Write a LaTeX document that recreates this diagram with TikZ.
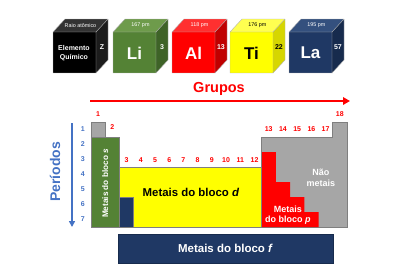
\documentclass[tikz,border=0pt]{standalone}
\usepackage{fontspec}
\setmainfont{Liberation Sans}
\usetikzlibrary{arrows.meta}
\definecolor{cgreen}{HTML}{548235}
\definecolor{cgreenT}{HTML}{6E9B4B}
\definecolor{cgreenS}{HTML}{3E6327}
\definecolor{cred}{HTML}{FF0000}
\definecolor{credT}{HTML}{FF3030}
\definecolor{credS}{HTML}{C00000}
\definecolor{cyel}{HTML}{FFFF00}
\definecolor{cyelT}{HTML}{FFFF50}
\definecolor{cyelS}{HTML}{D6D600}
\definecolor{cnavy}{HTML}{1F3864}
\definecolor{cnavyT}{HTML}{34507E}
\definecolor{cnavyS}{HTML}{172B4D}
\definecolor{cblk}{HTML}{000000}
\definecolor{cblkT}{HTML}{333333}
\definecolor{cblkS}{HTML}{1C1C1C}
\definecolor{cgray}{HTML}{A6A6A6}
\definecolor{cgrayL}{HTML}{7F7F7F}
\definecolor{cblue}{HTML}{4472C4}
\newcommand\elemcube[9]{%
  \fill[#4] (#1,32) -- (#1+12,19) -- (#1+55,19) -- (#1+43,32) -- cycle;
  \fill[#5] (#1+43,32) -- (#1+55,19) -- (#1+55,60) -- (#1+43,73) -- cycle;
  \fill[#3] (#1,32) rectangle (#1+43,73);
  \draw[cubeline] (#1,32) -- (#1+12,19) -- (#1+55,19) -- (#1+55,60) -- (#1+43,73) -- (#1,73) -- cycle
    (#1,32) -- (#1+43,32) -- (#1+55,19) (#1+43,32) -- (#1+43,73);
  \node[tiny, text=#6] (#2top) at (#1+27.5,25.5) {#7};
  \node[symb, text=#6] (#2sym) at (#1+21.5,53) {#8};
  \node[numb, text=#6] (#2num) at (#1+49,47) {#9};
}
\tikzset{
  cubeline/.style={draw=cgrayL!60, line width=0.4pt},
  tiny/.style={font=\fontsize{5.4}{6}\selectfont, inner sep=0pt},
  symb/.style={font=\fontsize{17}{20}\selectfont\bfseries, inner sep=0pt},
  numb/.style={font=\fontsize{7}{8}\selectfont\bfseries, inner sep=0pt},
  grp/.style={font=\fontsize{7}{8}\selectfont\bfseries, text=cred, inner sep=0pt},
  per/.style={font=\fontsize{7}{8}\selectfont\bfseries, text=cblue, inner sep=0pt},
  blk/.style={font=\fontsize{9}{10.5}\selectfont\bfseries, inner sep=0pt, align=center},
  cellline/.style={draw=cgrayL, line width=0.6pt},
}
\begin{document}
\begin{tikzpicture}[x=1pt,y=-1pt]
\useasboundingbox (0,0) rectangle (400,277);
% cubes
\elemcube{53}{c0}{cblk}{cblkT}{cblkS}{white}{Raio atômico}{}{Z}
\node[font=\fontsize{7}{8.5}\selectfont\bfseries, text=white, align=center, inner sep=0pt] (elq) at (74,53) {Elemento\\Químico};
\elemcube{113}{li}{cgreen}{cgreenT}{cgreenS}{white}{167 pm}{Li}{3}
\elemcube{172}{al}{cred}{credT}{credS}{white}{118 pm}{Al}{13}
\elemcube{230}{ti}{cyel}{cyelT}{cyelS}{black}{176 pm}{Ti}{22}
\elemcube{289}{la}{cnavy}{cnavyT}{cnavyS}{white}{195 pm}{La}{57}
% grupos
\coordinate (ga) at (90,101);
\coordinate (gb) at (350,101);
\draw[cred, line width=2.4pt, -{Triangle[length=7pt,width=7.5pt]}] (ga) -- (gb);
\node[font=\fontsize{14.5}{16}\selectfont\bfseries, text=cred, inner sep=0pt] (grupos) at (219,89) {Grupos};
% periodos
\coordinate (pa) at (72,123);
\coordinate (pb) at (72,227);
\draw[cblue, line width=1.6pt, -{Triangle[length=6pt,width=6pt]}] (pa) -- (pb);
\node[font=\fontsize{14}{16}\selectfont\bfseries, text=cblue, rotate=90, inner sep=0pt] (periodos) at (55,172) {Períodos};
% table
\begin{scope}[xshift=91pt, yshift=-122pt, x=14.22pt, y=-15pt]
  \filldraw[fill=cgray, cellline] (0,0) rectangle (1,1);
  \filldraw[fill=cgray, cellline] (12,1) -- (17,1) -- (17,0) -- (18,0) -- (18,7) -- (12,7) -- cycle;
  \fill[cred] (12,2) -- (13,2) -- (13,4) -- (14,4) -- (14,5) -- (15,5) -- (15,6) -- (16,6) -- (16,7) -- (12,7) -- cycle;
  \filldraw[fill=cgreen, cellline] (0,1) rectangle (2,7);
  \filldraw[fill=cyel, cellline] (2,3) rectangle (12,7);
  \filldraw[fill=cnavy, cellline] (2,5) rectangle (3,7);
  \draw[cellline] (12,1) -- (12,7);
  % group numbers
  \node[grp] (g1) at (0.5,-0.55) {1};
  \node[grp] (g2) at (1.5,0.35) {2};
  \foreach \g in {3,...,12} { \node[grp] (g\g) at (\g-0.5,2.55) {\g}; }
  \foreach \g in {13,...,17} { \node[grp] (g\g) at (\g-0.5,0.5) {\g}; }
  \node[grp] (g18) at (17.5,-0.55) {18};
  % period numbers
  \foreach \p in {1,...,7} { \node[per] (p\p) at (-0.57,\p-0.5) {\p}; }
  % block labels
  \node[font=\fontsize{8.2}{9.5}\selectfont\bfseries, inner sep=0pt, text=white, rotate=90] (bs) at (1.0,4.1) {Metais do bloco \textit{s}};
  \node[font=\fontsize{11.4}{13}\selectfont\bfseries, inner sep=0pt] (bd) at (7.03,4.67) {Metais do bloco \textit{d}};
  \node[blk, text=white] (nm) at (16.17,3.73) {Não\\metais};
  \node[blk, text=white] (bp) at (13.85,6.2) {Metais\\do bloco \textit{p}};
\end{scope}
% f block
\node[fill=cnavy, draw=cnavyS, minimum width=215pt, minimum height=29pt, inner sep=0pt,
  font=\fontsize{11.5}{13}\selectfont\bfseries, text=white] (bf) at (225.5,248.5) {Metais do bloco \textit{f}};
\end{tikzpicture}
\end{document}
